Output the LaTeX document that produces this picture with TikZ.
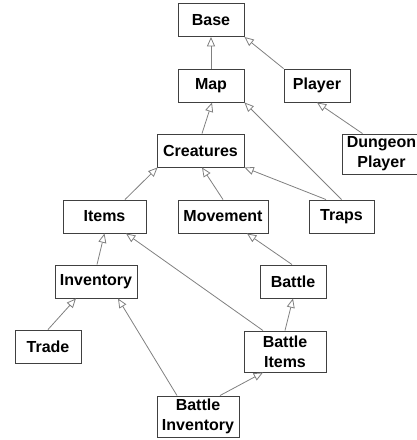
\documentclass[tikz,border=0pt]{standalone}
\usepackage{fontspec}
\setmainfont{Liberation Sans}
\usepackage{tikz}
\usetikzlibrary{arrows.meta,calc}

\begin{document}
\begin{tikzpicture}[x=0.75pt, y=-0.75pt,
	cls/.style={draw=black!75, line width=0.7pt, fill=white, inner sep=0pt,
		minimum height=24.75pt, align=center,
		font=\fontsize{12}{15}\selectfont\bfseries},
	isa/.style={draw=black!50, line width=0.6pt,
		-{Triangle[open, length=7pt, width=6pt]}}]
	\useasboundingbox (0,0) rectangle (417,440);
	\clip (0,0) rectangle (417,440);
	% classes
	\node[cls, minimum width=49.5pt] (base) at (211,20) {Base};
	\node[cls, minimum width=49.5pt] (map) at (211,85.5) {Map};
	\node[cls, minimum width=49.5pt] (player) at (317,85.5) {Player};
	\node[cls, minimum width=59.25pt, minimum height=30pt] (dplayer) at (381.5,154) {Dungeon\\Player};
	\node[cls, minimum width=65.25pt] (creatures) at (200.5,150.5) {Creatures};
	\node[cls, minimum width=62.25pt] (items) at (104.5,216.5) {Items};
	\node[cls, minimum width=67.5pt] (movement) at (223,216.5) {Movement};
	\node[cls, minimum width=48.75pt] (traps) at (341.5,216.5) {Traps};
	\node[cls, minimum width=61.5pt] (inventory) at (96,281.5) {Inventory};
	\node[cls, minimum width=49.5pt] (battle) at (293,281.5) {Battle};
	\node[cls, minimum width=49.5pt] (trade) at (48,346.5) {Trade};
	\node[cls, minimum width=61.5pt, minimum height=30.75pt] (bitems) at (285,351.5) {Battle\\Items};
	\node[cls, minimum width=61.5pt, minimum height=30.75pt] (binventory) at (198,416.5) {Battle\\Inventory};
	% inheritance
	\draw[isa] (map.north) -- (base.south);
	\draw[isa] (player.north west) -- (base.south east);
	\draw[isa] ($(dplayer.north)+(-19,0)$) -- (player.south);
	\draw[isa] ($(creatures.north)+(1.5,0)$) -- ($(map.south)+(1,0)$);
	\draw[isa] (traps.north) -- (map.south east);
	\draw[isa] ($(traps.north)+(-15.5,0)$) -- (creatures.south east);
	\draw[isa] ($(items.north)+(20.5,0)$) -- ($(creatures.south west)+(1,0)$);
	\draw[isa] (movement.north) -- ($(creatures.south)+(1.5,0)$);
	\draw[isa] ($(inventory.north)+(1,0)$) -- (items.south);
	\draw[isa] ($(bitems.north)+(-22,0)$) -- ($(items.south)+(21.5,0)$);
	\draw[isa] ($(battle.north)+(-1,0)$) -- ($(movement.south)+(24,0)$);
	\draw[isa] (trade.north) -- ($(inventory.south)+(-20,0)$);
	\draw[isa] ($(binventory.north)+(-21,0)$) -- ($(inventory.south)+(22,0)$);
	\draw[isa] (bitems.north) -- (battle.south);
	\draw[isa] ($(binventory.north)+(22,0)$) -- ($(bitems.south)+(-22,0)$);
\end{tikzpicture}
\end{document}
